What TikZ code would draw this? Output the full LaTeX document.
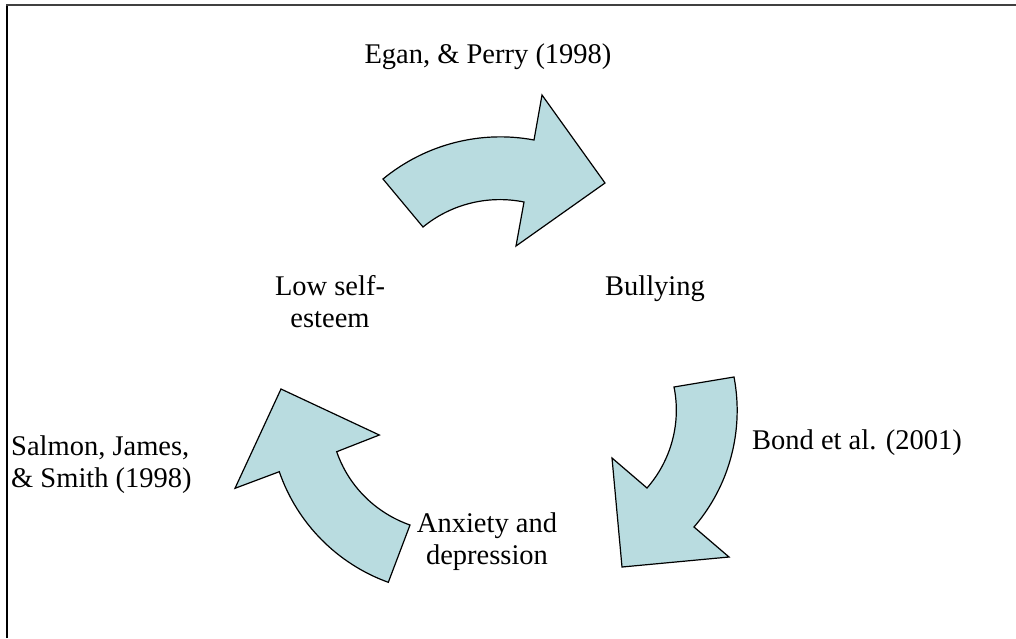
\documentclass[tikz,border=0pt]{standalone}
\usepackage{fontspec}
\setmainfont{Liberation Serif}
\definecolor{arrowfill}{RGB}{185,220,224}
\begin{document}
\begin{tikzpicture}[x=1pt,y=-1pt,
  cyc/.style={fill=arrowfill,draw=black,line width=1.2pt,line join=miter},
  lbl/.style={font=\fontsize{28.5}{32}\selectfont,align=center,inner sep=0pt,anchor=base},
  lbll/.style={font=\fontsize{28.5}{32}\selectfont,align=left,inner sep=0pt,anchor=base west}]
\useasboundingbox (0,0) rectangle (1016,638);
\fill[white] (0,0) rectangle (1016,638);
% frame
\draw[line width=1.2pt] (7,638) -- (7,5);
\draw[line width=2pt,black!75] (6,5) -- (1016,5);
% top arrow
\path[cyc] (383,179) .. controls (425,144.4) and (480.5,129.9) .. (534,140)
  -- (542,95) -- (605,183) -- (516,246) -- (524,202)
  .. controls (488.3,194.8) and (451.2,203.9) .. (423,227) -- cycle;
% right arrow
\path[cyc] (734,377) .. controls (744.2,430.4) and (729.5,485.8) .. (694,527)
  -- (729,557) -- (622,567) -- (612,458) -- (647,488)
  .. controls (671.2,460.4) and (681.3,422.9) .. (674,387) -- cycle;
% left arrow
\path[cyc] (388.3,582.3) .. controls (337.1,563.8) and (297,523.1) .. (279.3,471.7)
  -- (235,488.3) -- (281,389) -- (379.3,435) -- (336.7,451.7)
  .. controls (348.5,486.1) and (375.6,512.9) .. (410,525) -- cycle;
% labels
\node[lbl] (egan) at (488,63) {Egan, \& Perry (1998)};
\node[lbl] (low) at (330,327) {Low self-\\esteem};
\node[lbl] (bully) at (655,295) {Bullying};
\node[lbl] (bond) at (857,449) {Bond et al. (2001)};
\node[lbll] (salmon) at (11,487) {Salmon, James,\\\& Smith (1998)};
\node[lbl] (anx) at (487,564) {Anxiety and\\depression};
\end{tikzpicture}
\end{document}
